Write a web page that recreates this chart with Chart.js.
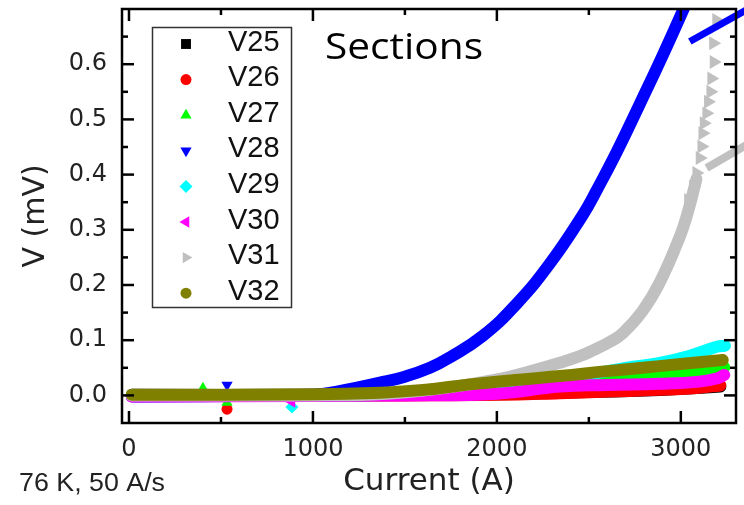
<!DOCTYPE html>
<html>
<head>
<meta charset="utf-8">
<script src="https://cdn.jsdelivr.net/npm/chart.js@4.4.1/dist/chart.umd.min.js"></script>
<style>
  html, body { margin: 0; padding: 0; background: #ffffff; }
  canvas { display: block; }
</style>
</head>
<body>
<canvas id="chart" width="744" height="505"></canvas>
<script>
// ---- data: [current (A), voltage (mV)] ----
const seriesNames = ['V25', 'V26', 'V27', 'V28', 'V29', 'V30', 'V31', 'V32'];

const V25 = [[15, 0.001], [1000, 0.001], [2000, 0.002], [2342, 0.005], [2886, 0.01], [3215, 0.016]];
const V26 = [[15, 0], [1000, 0], [1500, 0], [2000, 0.001], [2342, 0.004], [2600, 0.007], [2886, 0.01], [3100, 0.014], [3215, 0.018]];
const V27 = [[15, 0], [1000, 0], [1500, 0.001], [2000, 0.009], [2342, 0.02], [2614, 0.03], [2886, 0.038], [3100, 0.045], [3236, 0.051]];
const V28 = [[15, -0.002], [1000, 0.001], [1150, 0.008], [1364, 0.023], [1500, 0.034], [1636, 0.05], [1745, 0.069],
             [1924, 0.108], [2105, 0.165], [2286, 0.238], [2467, 0.327], [2543, 0.372], [2650, 0.44],
             [2780, 0.53], [2900, 0.615], [3015, 0.7], [3050, 0.728]];
const V29 = [[15, 0], [1000, 0], [1500, 0.002], [2000, 0.012], [2342, 0.028], [2522, 0.039], [2700, 0.05],
             [2886, 0.059], [3050, 0.072], [3195, 0.088], [3240, 0.09]];
const V30 = [[15, -0.002], [1000, -0.001], [1500, 0], [2000, 0.003], [2342, 0.016], [2600, 0.019], [2886, 0.021],
             [3100, 0.025], [3200, 0.031], [3236, 0.037]];
const V31 = [[15, 0], [1000, 0], [1400, 0.003], [1728, 0.014], [2016, 0.03], [2196, 0.045], [2342, 0.059],
             [2450, 0.071], [2522, 0.0815], [2614, 0.097], [2685, 0.113], [2790, 0.152], [2886, 0.205],
             [2995, 0.288], [3040, 0.334], [3085, 0.392]];
const V32 = [[15, 0.001], [1000, 0.002], [1364, 0.005], [1600, 0.01], [1853, 0.02], [2100, 0.028], [2342, 0.035],
             [2600, 0.044], [2793, 0.05], [3000, 0.057], [3228, 0.064]];

// isolated readings away from each band
const V25_pts = [];
const V26_pts = [[533, -0.025]];
const V27_pts = [[533, -0.013], [402, 0.013]];
const V28_pts = [[533, 0.019]];
const V29_pts = [[886, -0.021]];
const V30_pts = [[886, -0.012]];
const V31_pts = [[3040, 0.354], [3067, 0.378], [3085, 0.403], [3103, 0.43], [3112, 0.451], [3118, 0.475],
                 [3125, 0.493], [3139, 0.511], [3148, 0.532], [3161, 0.55], [3166, 0.574], [3179, 0.604],
                 [3176, 0.638], [3193, 0.68]];
const V32_pts = [];

// guide strokes leaving the frame at the upper right
const guideBlue = [[3049, 0.641], [3440, 0.714]];
const guideGray = [[3140, 0.412], [3440, 0.47]];

// axis ticks
const xTicks = [0, 1000, 2000, 3000];
const xTickLabels = ['0', '1000', '2000', '3000'];
const yTicks = [0, 0.1, 0.2, 0.3, 0.4, 0.5, 0.6];
const yTickLabels = ['0.0', '0.1', '0.2', '0.3', '0.4', '0.5', '0.6'];

// ---- styling ----
const bands = [V25, V26, V27, V28, V29, V30, V31, V32];
const extras = [V25_pts, V26_pts, V27_pts, V28_pts, V29_pts, V30_pts, V31_pts, V32_pts];
const colors = ['#000000', '#ff0000', '#00ff00', '#0000ff', '#00ffff', '#ff00ff', '#c0c0c0', '#808000'];
const markers = [
  { style: 'rect', rotation: 0, radius: 7 },
  { style: 'circle', rotation: 0, radius: 5.5 },
  { style: 'triangle', rotation: 0, radius: 6.5 },
  { style: 'triangle', rotation: 180, radius: 6.5 },
  { style: 'rectRot', rotation: 0, radius: 6.5 },
  { style: 'triangle', rotation: 270, radius: 6.5 },
  { style: 'triangle', rotation: 90, radius: 6.5 },
  { style: 'circle', rotation: 0, radius: 5.5 }
];

const toXY = arr => arr.map(([x, y]) => ({ x, y }));

const datasets = [];
seriesNames.forEach((name, i) => {
  datasets.push({
    label: name,
    data: toXY(bands[i]),
    borderColor: colors[i],
    backgroundColor: colors[i],
    borderWidth: 12,
    borderCapStyle: 'round',
    borderJoinStyle: 'round',
    tension: 0.45,
    pointRadius: 0,
    fill: false,
    clip: 0,
    order: (7 - i) * 2 + 10
  });
  datasets.push({
    label: name + ' points',
    data: toXY(extras[i]),
    showLine: false,
    borderColor: colors[i],
    backgroundColor: colors[i],
    pointStyle: markers[i].style,
    rotation: markers[i].rotation,
    pointRadius: i === 6 ? 8 : markers[i].radius,
    pointBorderWidth: 0,
    clip: 0,
    order: (7 - i) * 2 + 9
  });
});
[[guideBlue, '#0000ff', 7], [guideGray, '#c0c0c0', 8]].forEach(([pts, c, w]) => {
  datasets.push({
    label: '',
    data: toXY(pts),
    borderColor: c,
    borderWidth: w,
    pointRadius: 0,
    fill: false,
    clip: false,
    order: 0
  });
});

// frame with inward major/minor ticks on all four sides
const framePlugin = {
  id: 'frame',
  afterDatasetsDraw(chart) {
    const { ctx, chartArea: { left, right, top, bottom }, scales: { x, y } } = chart;
    ctx.save();
    ctx.strokeStyle = '#000';
    ctx.lineWidth = 2.5;
    ctx.lineCap = 'butt';
    ctx.strokeRect(left, top, right - left, bottom - top);
    const seg = (x1, y1, x2, y2) => { ctx.beginPath(); ctx.moveTo(x1, y1); ctx.lineTo(x2, y2); ctx.stroke(); };
    const withMinor = (ticks, min, max) => {
      const step = ticks[1] - ticks[0];
      const out = [];
      for (let v = ticks[0] - step / 2; v <= max + 1e-9; v += step / 2) {
        if (v < min - 1e-9) continue;
        const major = ticks.some(t => Math.abs(t - v) < 1e-9);
        out.push([v, major ? 12 : 6]);
      }
      return out;
    };
    withMinor(xTicks, x.min, x.max).forEach(([v, len]) => {
      const px = x.getPixelForValue(v);
      seg(px, bottom, px, bottom - len);
      seg(px, top, px, top + len);
    });
    withMinor(yTicks, y.min, y.max).forEach(([v, len]) => {
      const py = y.getPixelForValue(v);
      if (Math.abs(py - bottom) < 1 || Math.abs(py - top) < 1) return;
      seg(left, py, left + len, py);
      seg(right, py, right - len, py);
    });
    ctx.restore();
  }
};

// boxed legend inside the plot
const legendPlugin = {
  id: 'boxLegend',
  afterDraw(chart) {
    const { ctx } = chart;
    ctx.save();
    ctx.strokeStyle = '#333';
    ctx.lineWidth = 1.5;
    ctx.strokeRect(152.5, 27.5, 139, 280);
    ctx.font = '29px "Liberation Sans", Arial, sans-serif';
    ctx.textBaseline = 'middle';
    ctx.textAlign = 'left';
    seriesNames.forEach((name, i) => {
      const yRow = 44 + i * 35.6;
      ctx.fillStyle = colors[i];
      ctx.strokeStyle = colors[i];
      Chart.helpers.drawPoint(ctx, {
        pointStyle: markers[i].style,
        rotation: markers[i].rotation,
        radius: markers[i].radius,
        borderWidth: 0
      }, 186, yRow);
      ctx.fillStyle = '#111';
      ctx.fillText(name, 228, yRow - 1.5);
    });
    ctx.restore();
  }
};

// annotation texts
const notePlugin = {
  id: 'notes',
  afterDraw(chart) {
    const { ctx } = chart;
    const fitText = (text, font, x, baseline, width, color) => {
      ctx.save();
      ctx.font = font;
      ctx.fillStyle = color;
      ctx.textBaseline = 'alphabetic';
      const w = ctx.measureText(text).width;
      ctx.translate(x, baseline);
      ctx.scale(width / w, 1);
      ctx.fillText(text, 0, 0);
      ctx.restore();
    };
    fitText('Sections', '36px "Open Sans", sans-serif', 325, 59, 158, '#000');
    fitText('76 K, 50 A/s', '25px "Liberation Sans", Arial, sans-serif', 19, 491, 146, '#222');
  }
};

new Chart(document.getElementById('chart'), {
  type: 'line',
  data: { datasets },
  options: {
    responsive: false,
    animation: false,
    devicePixelRatio: 1,
    layout: { padding: { top: 9, right: 7, left: 0, bottom: 0 } },
    plugins: { legend: { display: false }, tooltip: { enabled: false } },
    scales: {
      x: {
        type: 'linear',
        min: -38,
        max: 3300,
        afterBuildTicks: s => { s.ticks = xTicks.map(value => ({ value })); },
        afterFit: s => { s.height = 82; s.paddingLeft = 0; s.paddingRight = 0; },
        grid: { display: false, drawTicks: false },
        border: { display: false },
        ticks: {
          autoSkip: false,
          maxRotation: 0,
          padding: 12,
          color: '#222',
          font: { family: '"DejaVu Sans"', size: 24 },
          callback: (v, i) => xTickLabels[i]
        },
        title: {
          display: true,
          text: 'Current (A)',
          color: '#222',
          font: { family: '"DejaVu Sans"', size: 31 },
          padding: { top: 0, bottom: 4 }
        }
      },
      y: {
        type: 'linear',
        min: -0.05,
        max: 0.7,
        afterBuildTicks: s => { s.ticks = yTicks.map(value => ({ value })); },
        afterFit: s => { s.width = 122; s.paddingTop = 0; s.paddingBottom = 0; },
        grid: { display: false, drawTicks: false },
        border: { display: false },
        ticks: {
          autoSkip: false,
          padding: 15,
          color: '#222',
          font: { family: '"DejaVu Sans"', size: 24 },
          callback: (v, i) => yTickLabels[i]
        },
        title: {
          display: true,
          text: 'V (mV)',
          color: '#222',
          font: { family: '"DejaVu Sans"', size: 30 },
          padding: { top: 18, bottom: 0 }
        }
      }
    }
  },
  plugins: [framePlugin, legendPlugin, notePlugin]
});
</script>
</body>
</html>
